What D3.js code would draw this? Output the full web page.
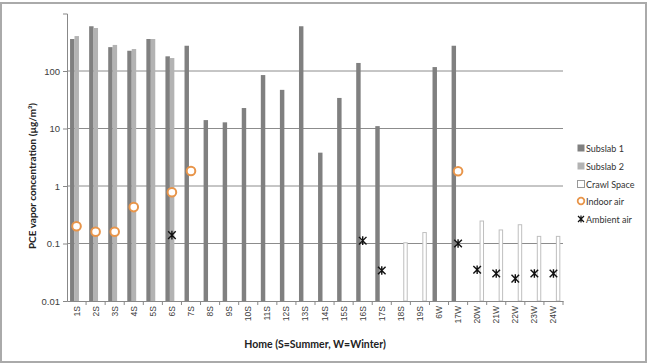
<!DOCTYPE html>
<html>
<head>
<meta charset="utf-8">
<script src="https://cdn.jsdelivr.net/npm/d3@7"></script>
<style>
    body { margin: 0; background: #fff; }
    svg { display: block; font-family: Lato, "Open Sans", sans-serif; }
</style>
</head>
<body>
<svg id="chart" width="648" height="364"></svg>
<script>
// data
const homes = ['1S', '2S', '3S', '4S', '5S', '6S', '7S', '8S', '9S', '10S', '11S', '12S', '13S', '14S', '15S', '16S', '17S', '18S', '19S', '6W', '17W', '20W', '21W', '22W', '23W', '24W'];
const subslab1 = [360, 600, 260, 225, 360, 180, 275, 14, 12.8, 22.7, 85, 47, 600, 3.8, 34, 138, 11, null, null, 117, 275, null, null, null, null, null];
const subslab2 = [405, 560, 284, 241, 360, 168, null, null, null, null, null, null, null, null, null, null, null, null, null, null, null, null, null, null, null, null];
const crawlSpace = [null, null, null, null, null, null, null, null, null, null, null, null, null, null, null, null, null, 0.103, 0.155, null, null, 0.246, 0.172, 0.212, 0.133, 0.133];
const indoorAir = [0.2, 0.16, 0.16, 0.43, null, 0.78, 1.82, null, null, null, null, null, null, null, null, null, null, null, null, null, 1.8, null, null, null, null, null];
const ambientAir = [null, null, null, null, null, 0.14, null, null, null, null, null, null, null, null, null, 0.112, 0.034, null, null, null, 0.1, 0.035, 0.03, 0.0245, 0.03, 0.03];
const yTicks = [0.01, 0.1, 1, 10, 100];
const yGrid = [0.1, 1, 10, 100];

let margin = {top: 13.5, left: 67, right: 85, bot: 63};
let width = 648, height = 364;
let config = {
    width: width - margin.left - margin.right,
    height: height - margin.top - margin.bot,
    margin: margin
};

let svg = d3.select('#chart');

// outer frame
svg.append('rect')
    .attr('x', 1).attr('y', 3)
    .attr('width', 645).attr('height', 359)
    .attr('fill', 'none')
    .attr('stroke', '#aaa')
    .attr('stroke-width', 2);

let xScale = d3.scaleBand()
    .domain(homes)
    .range([0, config.width]);
let bw = xScale.bandwidth();
let seriesNames = ['Subslab 1', 'Subslab 2', 'Crawl Space'];
let xSub = d3.scaleBand()
    .domain(seriesNames)
    .range([bw * 0.16, bw * 0.86]);
let yScale = d3.scaleLog()
    .domain([0.01, 1000])
    .range([config.height, 0]);

let plot = svg.append('g')
    .attr('transform', `translate(${margin.left},${margin.top})`);

// gridlines
plot.append('g').selectAll('line')
    .data(yGrid)
    .join('line')
    .attr('x1', 0).attr('x2', config.width)
    .attr('y1', d => yScale(d)).attr('y2', d => yScale(d))
    .attr('stroke', '#8c8c8c')
    .attr('stroke-width', 1);

// bars
let barSeries = [
    {name: 'Subslab 1', values: subslab1, fill: '#808080', stroke: 'none'},
    {name: 'Subslab 2', values: subslab2, fill: '#b3b3b3', stroke: 'none'},
    {name: 'Crawl Space', values: crawlSpace, fill: '#fff', stroke: '#bfbfbf'}
];
for (let s of barSeries) {
    let pts = homes.map((h, i) => ({home: h, v: s.values[i]})).filter(d => d.v != null);
    plot.append('g').selectAll('rect')
        .data(pts)
        .join('rect')
        .attr('x', d => xScale(d.home) + xSub(s.name) + (s.stroke === 'none' ? 0 : 0.5))
        .attr('y', d => yScale(d.v))
        .attr('width', xSub.bandwidth() - (s.stroke === 'none' ? 0 : 1))
        .attr('height', d => config.height - yScale(d.v))
        .attr('fill', s.fill)
        .attr('stroke', s.stroke)
        .attr('stroke-width', 1);
}

// y axis
let yAx = d3.axisLeft(yScale)
    .tickValues(yTicks)
    .tickFormat(d => d3.format('~g')(d))
    .tickSize(4)
    .tickPadding(3);
let yAxGroup = plot.append('g').call(yAx);
yAxGroup.select('.domain').attr('stroke', '#888');
yAxGroup.selectAll('.tick line').attr('stroke', '#888');
yAxGroup.selectAll('.tick text')
    .attr('fill', '#404040')
    .style('font-size', '9.5px');

// x axis
let xAx = d3.axisBottom(xScale)
    .tickSize(0)
    .tickPadding(0);
let xAxGroup = plot.append('g')
    .attr('transform', `translate(0,${config.height})`)
    .call(xAx);
xAxGroup.select('.domain').attr('stroke', '#888');
xAxGroup.selectAll('.tick text')
    .attr('fill', '#404040')
    .style('font-size', '8.5px')
    .attr('text-anchor', 'end')
    .attr('transform', 'translate(3,5) rotate(-90)')
    .attr('dy', 0)
    .attr('x', 0)
    .attr('y', 0);
// tick marks between categories
xAxGroup.append('g').selectAll('line')
    .data(homes.slice(1).concat(['end']))
    .join('line')
    .attr('x1', (d, i) => xScale(homes[i]) + bw)
    .attr('x2', (d, i) => xScale(homes[i]) + bw)
    .attr('y1', 0).attr('y2', 4)
    .attr('stroke', '#888');

// indoor air circles
let indoorPts = homes.map((h, i) => ({home: h, v: indoorAir[i]})).filter(d => d.v != null);
plot.append('g').selectAll('circle')
    .data(indoorPts)
    .join('circle')
    .attr('cx', d => xScale(d.home) + bw / 2)
    .attr('cy', d => yScale(d.v))
    .attr('r', 4.3)
    .attr('fill', '#fff')
    .attr('stroke', '#e8954a')
    .attr('stroke-width', 2);

// ambient air star markers
function starPath(r) {
    return `M${-r},${-r}L${r},${r}M${-r},${r}L${r},${-r}M0,${-r - 0.5}L0,${r + 0.5}`;
}
let ambientPts = homes.map((h, i) => ({home: h, v: ambientAir[i]})).filter(d => d.v != null);
plot.append('g').selectAll('path')
    .data(ambientPts)
    .join('path')
    .attr('transform', d => `translate(${xScale(d.home) + bw / 2},${yScale(d.v)})`)
    .attr('d', starPath(3.8))
    .attr('stroke', '#111')
    .attr('stroke-width', 1.4)
    .attr('fill', 'none');

// axis titles
svg.append('text')
    .attr('x', 315).attr('y', 348)
    .attr('text-anchor', 'middle')
    .attr('font-weight', 'bold')
    .style('font-size', '10.5px')
    .attr('fill', '#222')
    .text('Home (S=Summer, W=Winter)');
svg.append('text')
    .attr('transform', 'translate(36,176) rotate(-90)')
    .attr('text-anchor', 'middle')
    .attr('font-weight', 'bold')
    .style('font-size', '10px')
    .attr('fill', '#222')
    .text('PCE vapor concentration (µg/m³)');

// legend
let legendItems = ['Subslab 1', 'Subslab 2', 'Crawl Space', 'Indoor air', 'Ambient air'];
let legendY = [148, 166, 184, 201, 219];
let legend = svg.append('g');
legendItems.forEach((name, i) => {
    let g = legend.append('g').attr('transform', `translate(581,${legendY[i]})`);
    if (i < 3) {
        let s = barSeries[i];
        g.append('rect')
            .attr('x', -3.5).attr('y', -3.5)
            .attr('width', 7).attr('height', 7)
            .attr('fill', s.fill)
            .attr('stroke', s.stroke === 'none' ? 'none' : '#999');
    } else if (i === 3) {
        g.append('circle').attr('r', 3.3)
            .attr('fill', '#fff').attr('stroke', '#e8954a').attr('stroke-width', 1.8);
    } else {
        g.append('path').attr('d', starPath(3)).attr('stroke', '#111').attr('stroke-width', 1.2);
    }
    g.append('text')
        .attr('x', 5).attr('y', 3.5)
        .style('font-size', '9px')
        .attr('fill', '#333')
        .text(name);
});
</script>
</body>
</html>
